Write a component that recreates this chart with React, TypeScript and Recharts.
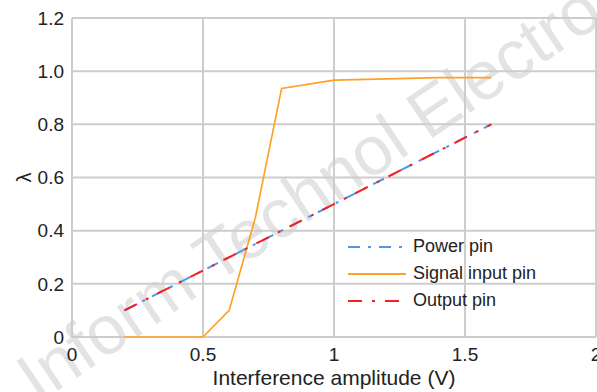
import { LineChart, Line, XAxis, YAxis, CartesianGrid, Legend } from 'recharts';

const xTicks = [0, 0.5, 1, 1.5, 2];
const xTickLabels = ['0', '0.5', '1', '1.5', '2'];
const yTicks = [0, 0.2, 0.4, 0.6, 0.8, 1.0, 1.2];
const yTickLabels = ['0', '0.2', '0.4', '0.6', '0.8', '1.0', '1.2'];

const powerX = [0.2, 0.4, 0.6, 0.8, 1.0, 1.2, 1.4, 1.6];
const powerY = [0.1, 0.2, 0.3, 0.4, 0.5, 0.6, 0.7, 0.8];

const signalX = [0.2, 0.5, 0.6, 0.7, 0.8, 1.0, 1.2, 1.4, 1.6];
const signalY = [0, 0, 0.1, 0.45, 0.935, 0.966, 0.971, 0.976, 0.976];

const outputX = [0.2, 0.4, 0.6, 0.8, 1.0, 1.2, 1.4, 1.6];
const outputY = [0.1, 0.2, 0.3, 0.4, 0.5, 0.6, 0.7, 0.8];

const toPoints = (xs: number[], ys: number[]) => xs.map((x, i) => ({ x, y: ys[i] }));

const FONT = '"Liberation Sans", Arial, sans-serif';

const series = [
  { key: 'power', name: 'Power pin', color: '#4f98e8', dash: '12 8 3 8', width: 2, data: toPoints(powerX, powerY) },
  { key: 'signal', name: 'Signal input pin', color: '#ffa126', dash: undefined, width: 1.7, data: toPoints(signalX, signalY) },
  { key: 'output', name: 'Output pin', color: '#f22020', dash: '14 10 3 10', width: 2, data: toPoints(outputX, outputY) },
];

function LegendBox() {
  return (
    <div style={{ fontFamily: FONT, fontSize: 18, color: '#222' }}>
      {series.map((s) => (
        <div key={s.key} style={{ display: 'flex', alignItems: 'center', height: 27 }}>
          <svg width={58} height={6} style={{ marginRight: 7 }}>
            <line x1={0} y1={3} x2={58} y2={3} stroke={s.color} strokeWidth={2} strokeDasharray={s.dash} />
          </svg>
          <span>{s.name}</span>
        </div>
      ))}
    </div>
  );
}

// rotated y-axis title
function YTitle(props: any) {
  const vb = props.viewBox || {};
  const cx = 24;
  const cy = (vb.y ?? 18) + (vb.height ?? 319) / 2;
  return (
    <text
      x={cx}
      y={cy}
      transform={`rotate(-90 ${cx} ${cy})`}
      textAnchor="middle"
      dominantBaseline="central"
      fontFamily={FONT}
      fontSize={20}
      fill="#222"
    >
      λ
    </text>
  );
}

export default function App() {
  return (
    <div style={{ position: 'absolute', left: 0, top: 0, width: 597, height: 392, background: '#fff', overflow: 'hidden' }}>
      {/* faint watermark behind the plot */}
      <svg width={597} height={392} style={{ position: 'absolute', left: 0, top: 0 }}>
        <text
          x={38}
          y={404}
          transform="rotate(-34 38 404)"
          fontFamily={FONT}
          fontSize={69}
          fill="#e3e3e3"
        >
          Inform Technol Electro
        </text>
      </svg>
      <div style={{ position: 'relative' }}>
        <LineChart width={597} height={392} margin={{ top: 18, right: 1, bottom: 0, left: 0 }}>
          <CartesianGrid stroke="#cdcdcd" strokeWidth={2} />
          <XAxis
            dataKey="x"
            type="number"
            domain={[0, 2]}
            ticks={xTicks}
            interval={0}
            tickFormatter={(v: number) => xTickLabels[xTicks.indexOf(v)] ?? String(v)}
            tick={{ fontSize: 19, fill: '#222', fontFamily: FONT }}
            tickLine={false}
            axisLine={false}
            tickSize={0}
            tickMargin={11}
            height={55}
            label={{ value: 'Interference amplitude (V)', position: 'insideBottom', offset: 7, fontSize: 21, fill: '#222', fontFamily: FONT }}
          />
          <YAxis
            type="number"
            domain={[0, 1.2]}
            ticks={yTicks}
            interval={0}
            tickFormatter={(v: number) => yTickLabels[yTicks.findIndex((t) => Math.abs(t - v) < 1e-9)] ?? String(v)}
            tick={{ fontSize: 19, fill: '#222', fontFamily: FONT }}
            tickLine={false}
            axisLine={false}
            tickSize={0}
            tickMargin={8}
            width={72}
            label={{ value: 'λ', content: YTitle }}
          />
          <Legend
            layout="vertical"
            align="center"
            verticalAlign="middle"
            wrapperStyle={{ left: 348, top: 233, width: 220 }}
            content={() => <LegendBox />}
          />
          {series.map((s) => (
            <Line
              key={s.key}
              data={s.data}
              dataKey="y"
              name={s.name}
              type="linear"
              stroke={s.color}
              strokeWidth={s.width}
              strokeDasharray={s.dash}
              dot={false}
              activeDot={false}
              isAnimationActive={false}
            />
          ))}
        </LineChart>
      </div>
    </div>
  );
}
